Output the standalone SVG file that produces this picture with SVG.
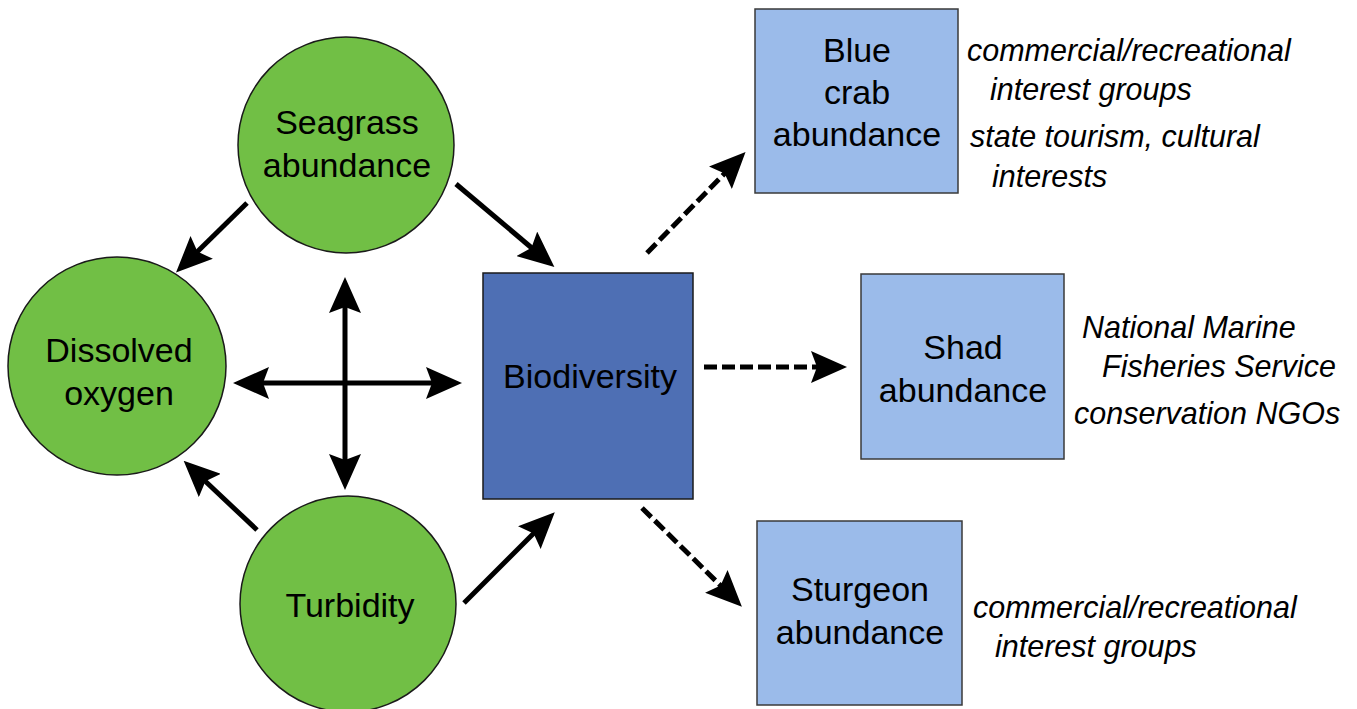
<svg xmlns="http://www.w3.org/2000/svg" width="1357" height="709" viewBox="0 0 1357 709">
<style>
.circ{fill:#71bf45;stroke:#1a1a1a;stroke-width:1.5}
.bio{fill:#4e6fb4;stroke:#1a1a1a;stroke-width:1.5}
.sp{fill:#9bbbea;stroke:#3a3a3a;stroke-width:1.5}
.lbl{font-family:"Liberation Sans",Arial,sans-serif;font-size:34px;fill:#000;text-anchor:middle}
.side{font-family:"Liberation Sans",Arial,sans-serif;font-size:30.5px;font-style:italic;fill:#000}
.solid{stroke:#000;stroke-width:5;fill:none}
.dash{stroke:#000;stroke-width:5;fill:none;stroke-dasharray:13 5}
</style>
<defs>
<marker id="ah" markerUnits="userSpaceOnUse" viewBox="0 0 36 32" markerWidth="36" markerHeight="32" refX="8" refY="16" orient="auto-start-reverse">
<path d="M0,0 L36,16 L0,32 L6,16 Z" fill="#000"/>
</marker>
</defs>
<rect width="1357" height="709" fill="#fff"/>
<g id="connectors">
<line class="solid" x1="247" y1="203" x2="196" y2="253" marker-end="url(#ah)"/>
<line class="solid" x1="456" y1="184" x2="533" y2="249" marker-end="url(#ah)"/>
<line class="solid" x1="257" y1="530" x2="204" y2="480" marker-end="url(#ah)"/>
<line class="solid" x1="464" y1="603" x2="535" y2="532" marker-end="url(#ah)"/>
<line class="solid" x1="345" y1="305" x2="345" y2="462" marker-start="url(#ah)" marker-end="url(#ah)"/>
<line class="solid" x1="261" y1="383" x2="434" y2="383" marker-start="url(#ah)" marker-end="url(#ah)"/>
<line class="dash" x1="647" y1="253" x2="726" y2="172" marker-end="url(#ah)"/>
<line class="dash" x1="704" y1="367" x2="819" y2="367" marker-end="url(#ah)"/>
<line class="dash" x1="642" y1="508" x2="722" y2="587" marker-end="url(#ah)"/>
</g>
<g id="seagrass">
<circle class="circ" cx="346" cy="145" r="108"/>
<text class="lbl" x="347" y="134">Seagrass</text>
<text class="lbl" x="347" y="177">abundance</text>
</g>
<g id="dissolved-oxygen">
<circle class="circ" cx="117" cy="366" r="109"/>
<text class="lbl" x="119" y="362">Dissolved</text>
<text class="lbl" x="119" y="405">oxygen</text>
</g>
<g id="turbidity">
<circle class="circ" cx="348" cy="604" r="108"/>
<text class="lbl" x="350" y="617">Turbidity</text>
</g>
<g id="biodiversity">
<rect class="bio" x="483" y="273" width="210" height="226"/>
<text class="lbl" x="590" y="388">Biodiversity</text>
</g>
<g id="blue-crab">
<rect class="sp" x="755" y="9" width="203" height="184"/>
<text class="lbl" x="857" y="62">Blue</text>
<text class="lbl" x="857" y="104">crab</text>
<text class="lbl" x="857" y="146">abundance</text>
<text class="side" x="967" y="61">commercial/recreational</text>
<text class="side" x="990" y="100">interest groups</text>
<text class="side" x="970" y="147">state tourism, cultural</text>
<text class="side" x="992" y="187">interests</text>
</g>
<g id="shad">
<rect class="sp" x="861" y="274" width="203" height="185"/>
<text class="lbl" x="963" y="359">Shad</text>
<text class="lbl" x="963" y="402">abundance</text>
<text class="side" x="1082" y="338">National Marine</text>
<text class="side" x="1102" y="377">Fisheries Service</text>
<text class="side" x="1074" y="424">conservation NGOs</text>
</g>
<g id="sturgeon">
<rect class="sp" x="757" y="521" width="205" height="184"/>
<text class="lbl" x="860" y="601">Sturgeon</text>
<text class="lbl" x="860" y="644">abundance</text>
<text class="side" x="973" y="618">commercial/recreational</text>
<text class="side" x="995" y="657">interest groups</text>
</g>
</svg>
